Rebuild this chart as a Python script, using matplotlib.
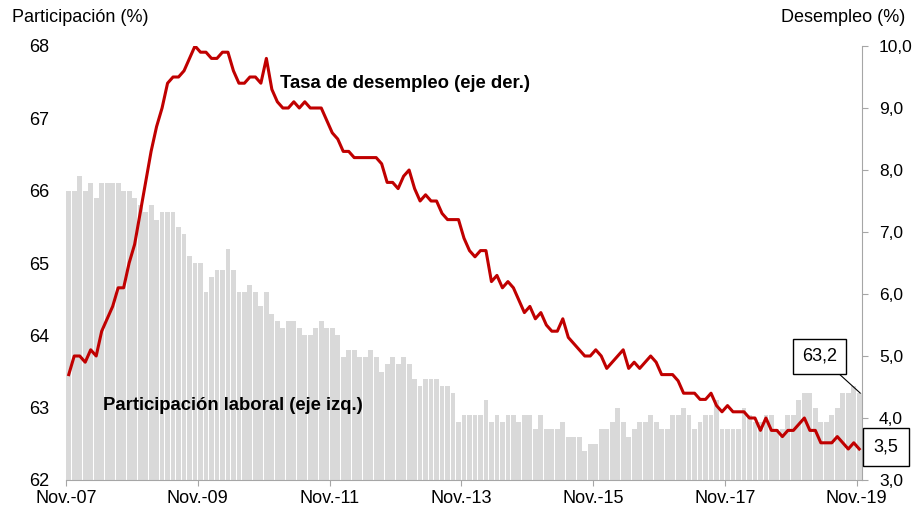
import numpy as np
import matplotlib.pyplot as plt

plt.rcParams['font.family'] = ['Liberation Sans', 'DejaVu Sans']

# Monthly data, Nov 2007 - Nov 2019
participacion = [
    66.0, 66.0,
    66.2, 66.0, 66.1, 65.9, 66.1, 66.1, 66.1, 66.1, 66.0, 66.0, 65.9, 65.8,
    65.7, 65.8, 65.6, 65.7, 65.7, 65.7, 65.5, 65.4, 65.1, 65.0, 65.0, 64.6,
    64.8, 64.9, 64.9, 65.2, 64.9, 64.6, 64.6, 64.7, 64.6, 64.4, 64.6, 64.3,
    64.2, 64.1, 64.2, 64.2, 64.1, 64.0, 64.0, 64.1, 64.2, 64.1, 64.1, 64.0,
    63.7, 63.8, 63.8, 63.7, 63.7, 63.8, 63.7, 63.5, 63.6, 63.7, 63.6, 63.7,
    63.6, 63.4, 63.3, 63.4, 63.4, 63.4, 63.3, 63.3, 63.2, 62.8, 62.9, 62.9,
    62.9, 62.9, 63.1, 62.8, 62.9, 62.8, 62.9, 62.9, 62.8, 62.9, 62.9, 62.7,
    62.9, 62.7, 62.7, 62.7, 62.8, 62.6, 62.6, 62.6, 62.4, 62.5, 62.5, 62.7,
    62.7, 62.8, 63.0, 62.8, 62.6, 62.7, 62.8, 62.8, 62.9, 62.8, 62.7, 62.7,
    62.9, 62.9, 63.0, 62.9, 62.7, 62.8, 62.9, 62.9, 63.1, 62.7, 62.7, 62.7,
    62.7, 63.0, 62.9, 62.8, 62.8, 62.9, 62.9, 62.7, 62.7, 62.9, 62.9, 63.1,
    63.2, 63.2, 63.0, 62.8, 62.8, 62.9, 63.0, 63.2, 63.2, 63.3, 63.2,
]
desempleo = [
    4.7, 5.0,
    5.0, 4.9, 5.1, 5.0, 5.4, 5.6, 5.8, 6.1, 6.1, 6.5, 6.8, 7.3,
    7.8, 8.3, 8.7, 9.0, 9.4, 9.5, 9.5, 9.6, 9.8, 10.0, 9.9, 9.9,
    9.8, 9.8, 9.9, 9.9, 9.6, 9.4, 9.4, 9.5, 9.5, 9.4, 9.8, 9.3,
    9.1, 9.0, 9.0, 9.1, 9.0, 9.1, 9.0, 9.0, 9.0, 8.8, 8.6, 8.5,
    8.3, 8.3, 8.2, 8.2, 8.2, 8.2, 8.2, 8.1, 7.8, 7.8, 7.7, 7.9,
    8.0, 7.7, 7.5, 7.6, 7.5, 7.5, 7.3, 7.2, 7.2, 7.2, 6.9, 6.7,
    6.6, 6.7, 6.7, 6.2, 6.3, 6.1, 6.2, 6.1, 5.9, 5.7, 5.8, 5.6,
    5.7, 5.5, 5.4, 5.4, 5.6, 5.3, 5.2, 5.1, 5.0, 5.0, 5.1, 5.0,
    4.8, 4.9, 5.0, 5.1, 4.8, 4.9, 4.8, 4.9, 5.0, 4.9, 4.7, 4.7,
    4.7, 4.6, 4.4, 4.4, 4.4, 4.3, 4.3, 4.4, 4.2, 4.1, 4.2, 4.1,
    4.1, 4.1, 4.0, 4.0, 3.8, 4.0, 3.8, 3.8, 3.7, 3.8, 3.8, 3.9,
    4.0, 3.8, 3.8, 3.6, 3.6, 3.6, 3.7, 3.6, 3.5, 3.6, 3.5,
]
tick_labels = ['Nov.-07', 'Nov.-09', 'Nov.-11', 'Nov.-13', 'Nov.-15', 'Nov.-17', 'Nov.-19']

n = len(participacion)
x = np.arange(n) + 0.5
gray_axis = '#a6a6a6'

fig = plt.figure(figsize=(9.16, 5.12), dpi=100)
ax = fig.add_axes([66/916, 1-480/512, (862-66)/916, (480-46)/512])

ax.bar(x, participacion, width=0.88, color='#d9d9d9', linewidth=0)
ax.set_ylim(62, 68)
ax.set_xlim(0, n)
ax.set_yticks(range(62, 69))
ax.tick_params(axis='y', length=0, pad=12, labelsize=13)
ax.set_xticks(np.arange(0, n, 24))
ax.set_xticklabels(tick_labels)
ax.tick_params(axis='x', length=4, color=gray_axis, pad=3, labelsize=13)
for s in ['left', 'top', 'right']:
    ax.spines[s].set_visible(False)
ax.spines['bottom'].set_color(gray_axis)

ax2 = ax.twinx()
ax2.plot(x, desempleo, color='#c00000', lw=2.2, solid_joinstyle='round')
ax2.set_ylim(3, 10)
ax2.set_yticks(np.arange(3, 10.5, 1))
ax2.set_yticklabels([f'{v:.1f}'.replace('.', ',') for v in np.arange(3, 10.5, 1)])
ax2.tick_params(axis='y', length=4.3, color=gray_axis, pad=8, labelsize=12.5)
for s in ['left', 'top', 'bottom']:
    ax2.spines[s].set_visible(False)
ax2.spines['right'].set_color(gray_axis)

# last-value labels
ax.annotate(f'{participacion[-1]:.1f}'.replace('.', ','), xy=(x[-1] + 0.2, participacion[-1]),
            xytext=(137.3, 63.71), ha='center', va='center', fontsize=13,
            bbox=dict(boxstyle='square,pad=0.5', fc='white', ec='black', lw=1),
            arrowprops=dict(arrowstyle='-', color='black', lw=0.8, shrinkA=0, shrinkB=0),
            annotation_clip=False, zorder=5)
ax2.annotate(f'{desempleo[-1]:.1f}'.replace('.', ','), xy=(149.4, 3.53), ha='center', va='center',
             fontsize=13, bbox=dict(boxstyle='square,pad=0.6', fc='white', ec='black', lw=1),
             annotation_clip=False, zorder=5)

fig.text(12/916, 1-18/512, 'Participación (%)', fontsize=13, va='center', ha='left')
fig.text(905/916, 1-18/512, 'Desempleo (%)', fontsize=13, va='center', ha='right')
fig.text(280/916, 1-83/512, 'Tasa de desempleo (eje der.)', fontsize=13.3, fontweight='bold',
         va='center', ha='left')
fig.text(103/916, 1-405/512, 'Participación laboral (eje izq.)', fontsize=13.3, fontweight='bold',
         va='center', ha='left')

fig.savefig('out.png', dpi=100)
